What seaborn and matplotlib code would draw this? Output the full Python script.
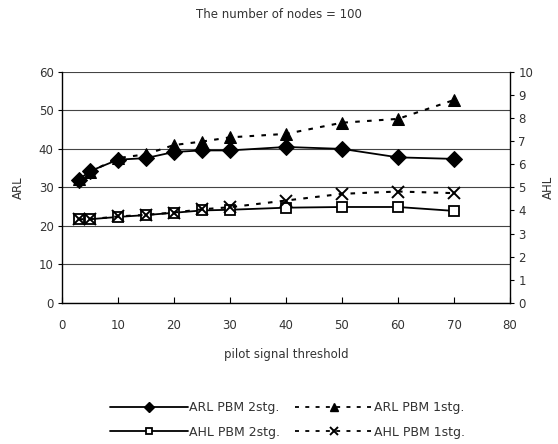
import matplotlib
matplotlib.use("Agg")
import matplotlib.pyplot as plt
import seaborn as sns
import numpy as np
from matplotlib.lines import Line2D

thresholds = [3, 5, 10, 15, 20, 25, 30, 40, 50, 60, 70]
arl_pbm_2stg = [32, 34.2, 37.2, 37.6, 39.2, 39.6, 39.6, 40.5, 40.0, 37.8, 37.4]
arl_pbm_1stg = [32.3, 34.0, 37.6, 38.6, 41.0, 41.9, 43.0, 43.9, 46.8, 47.8, 52.7]
ahl_pbm_2stg = [3.62, 3.62, 3.72, 3.8, 3.9, 4.0, 4.03, 4.12, 4.15, 4.15, 3.98]
ahl_pbm_1stg = [3.62, 3.62, 3.74, 3.81, 3.91, 4.05, 4.14, 4.43, 4.72, 4.82, 4.75]

labels = ["ARL PBM 2stg.", "ARL PBM 1stg.", "AHL PBM 2stg.", "AHL PBM 1stg."]
title = "The number of nodes = 100"

sns.set_style("white")
plt.rcParams['font.family'] = ['DejaVu Sans']
plt.rcParams['font.size'] = 8.5
txt = '#333333'

fig = plt.figure(figsize=(5.58, 4.44), dpi=100)
ax = fig.add_axes([0.111, 0.318, 0.803, 0.520])
ax2 = ax.twinx()

dots = (0, (2.2, 3.5))
sns.lineplot(x=thresholds, y=arl_pbm_2stg, ax=ax, color='black', lw=1.3,
             marker='D', markersize=8, markerfacecolor='black', markeredgecolor='black', zorder=4)
sns.lineplot(x=thresholds, y=arl_pbm_1stg, ax=ax, color='black', lw=1.5, linestyle=dots,
             marker='^', markersize=9, markerfacecolor='black', markeredgecolor='black', zorder=3)
sns.lineplot(x=thresholds, y=ahl_pbm_2stg, ax=ax2, color='black', lw=1.3,
             marker='s', markersize=7, markerfacecolor='white', markeredgecolor='black',
             markeredgewidth=1.3, zorder=3)
sns.lineplot(x=thresholds, y=ahl_pbm_1stg, ax=ax2, color='black', lw=1.5, linestyle=dots,
             marker='x', markersize=9, markeredgecolor='black', markeredgewidth=1.4, zorder=4)

ax.set_xlim(0, 80)
ax.set_ylim(0, 60)
ax2.set_ylim(0, 10)
ax.set_xticks(range(0, 81, 10))
ax.set_yticks(range(0, 61, 10))
ax2.set_yticks(range(0, 11, 1))

ax.yaxis.grid(True, color='#444444', lw=0.8)
ax.xaxis.grid(False)
ax2.grid(False)

for a in (ax, ax2):
    for s in a.spines.values():
        s.set_visible(False)
ax.spines['left'].set_visible(True)
ax.spines['bottom'].set_visible(True)
ax2.spines['right'].set_visible(True)
for s in (ax.spines['left'], ax.spines['bottom'], ax2.spines['right']):
    s.set_color('black')
    s.set_linewidth(1.0)

ax.tick_params(axis='x', direction='in', length=4, color='black', labelsize=8.5, pad=12,
               bottom=True, labelcolor=txt)
ax.tick_params(axis='y', direction='out', length=3, color='black', labelsize=8.5, pad=3,
               left=True, labelcolor=txt)
ax2.tick_params(axis='y', direction='out', length=3, color='black', labelsize=8.5, pad=3,
                right=True, labelcolor=txt)

ax.set_xlabel("pilot signal threshold", fontsize=8.5, labelpad=11, color=txt)
ax.set_ylabel("ARL", fontsize=8.5, labelpad=10, color=txt)
ax2.set_ylabel("AHL", fontsize=8.5, labelpad=6, color=txt)
fig.text(0.5, 0.968, title, ha='center', va='center', fontsize=8.5, color=txt)

handles = [
    Line2D([], [], color='black', lw=1.3, marker='D', markersize=5, markerfacecolor='black'),
    Line2D([], [], color='black', lw=1.3, marker='s', markersize=5, markerfacecolor='white', markeredgewidth=1.3),
    Line2D([], [], color='black', lw=1.3, linestyle=dots, marker='^', markersize=6, markerfacecolor='black'),
    Line2D([], [], color='black', lw=1.3, linestyle=dots, marker='x', markersize=6, markeredgewidth=1.4),
]
leg_labels = [labels[0], labels[2], labels[1], labels[3]]
leg = fig.legend(handles, leg_labels, ncol=2, loc='center', bbox_to_anchor=(0.515, 0.054),
                 frameon=False, handlelength=6.2, handletextpad=0.1, columnspacing=1.2,
                 labelspacing=0.9, fontsize=9)
for t in leg.get_texts():
    t.set_color(txt)

fig.savefig("out.png", dpi=100)
